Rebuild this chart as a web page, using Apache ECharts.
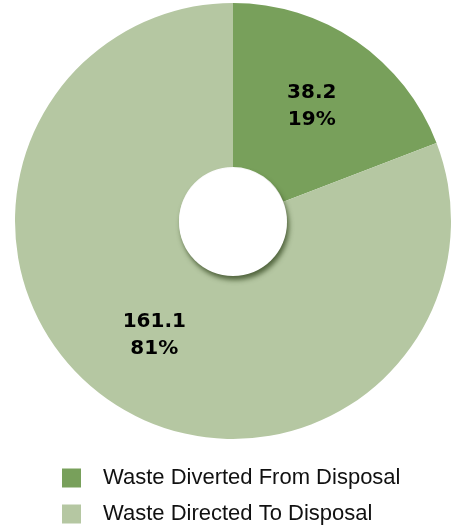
<!DOCTYPE html>
<html><head><meta charset="utf-8">
<script src="https://cdn.jsdelivr.net/npm/echarts@6/dist/echarts.min.js"></script>
<style>html,body{margin:0;padding:0;background:#fff}#c{width:452px;height:528px}</style>
</head><body><div id="c"></div>
<script>
const categories = ['Waste Diverted From Disposal', 'Waste Directed To Disposal'];
const values = [38.2, 161.1];
const percents = ['19%', '81%'];
const colors = ['#78a05b', '#b5c7a2'];

const legendTops = [466, 502];
const chart = echarts.init(document.getElementById('c'), null, {renderer: 'canvas'});
chart.setOption({
  animation: false,
  color: colors,
  legend: categories.map((c, i) => ({
    orient: 'vertical', left: 62, top: legendTops[i], padding: 0,
    itemWidth: 19, itemHeight: 19, itemGap: 0,
    icon: 'rect',
    textStyle: {fontFamily: 'Liberation Sans, Arial, sans-serif', fontSize: 22, lineHeight: 24, color: '#111', padding: [0, 0, 0, 17]},
    data: [c]
  })),
  graphic: [{
    type: 'circle', z: 100,
    shape: {cx: 233, cy: 222, r: 54},
    style: {fill: '#fff', shadowBlur: 5, shadowOffsetX: 2, shadowOffsetY: 4, shadowColor: 'rgba(40,60,20,0.7)'}
  }],
  series: [{
    type: 'pie',
    center: [233, 221],
    radius: [54, 218],
    startAngle: 90,
    clockwise: true,
    label: {
      position: 'inside',
      formatter: p => p.value + '\n' + percents[p.dataIndex],
      fontFamily: 'DejaVu Sans, sans-serif',
      fontWeight: 'bold', fontSize: 20, lineHeight: 27, color: '#000'
    },
    labelLine: {show: false},
    itemStyle: {borderWidth: 0},
    emphasis: {disabled: true},
    data: categories.map((c, i) => ({name: c, value: values[i]}))
  }]
});
</script></body></html>
